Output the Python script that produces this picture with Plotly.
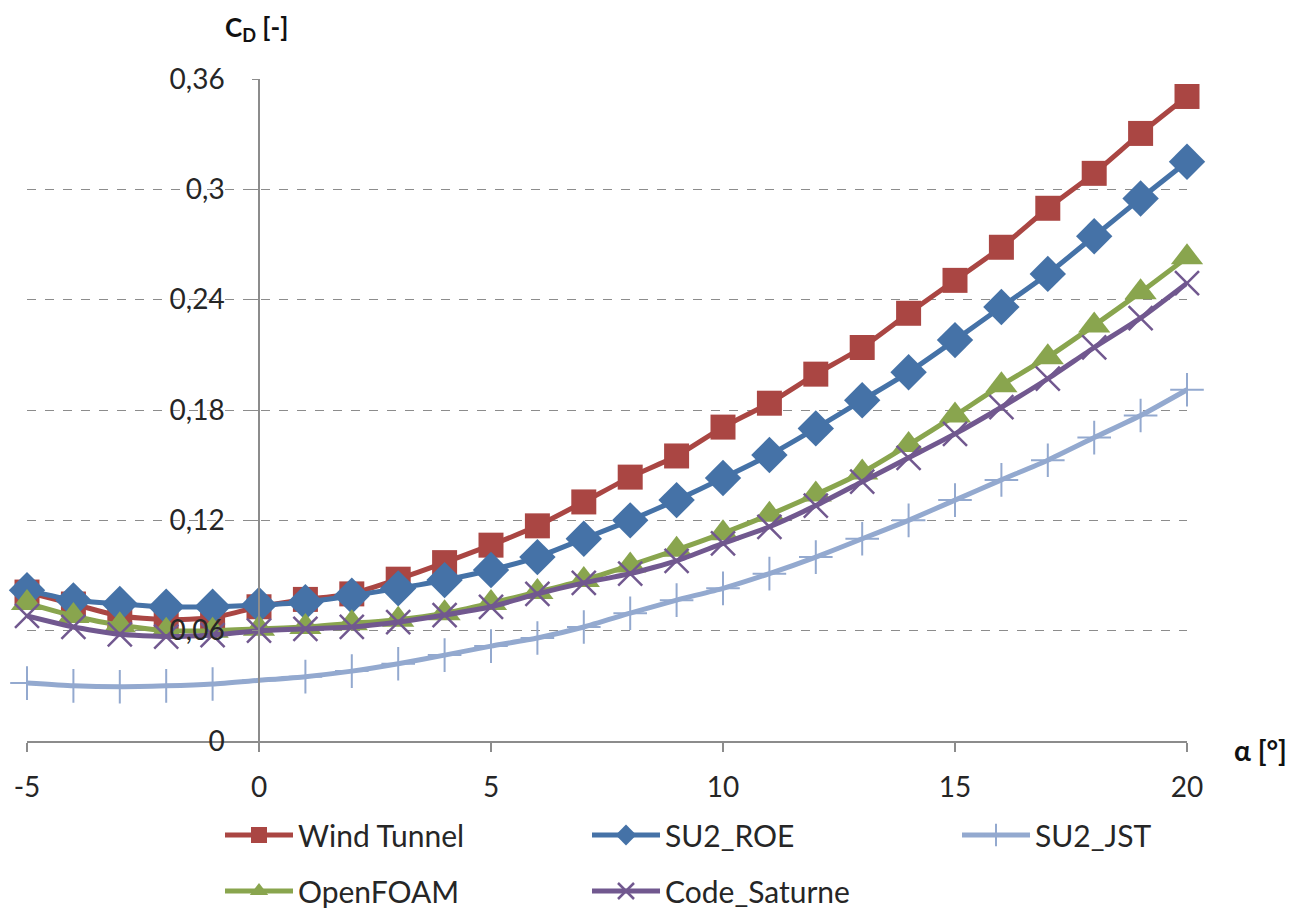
import plotly.graph_objects as go

alpha = [-5, -4, -3, -2, -1, 0, 1, 2, 3, 4, 5, 6, 7, 8, 9, 10, 11, 12, 13, 14, 15, 16, 17, 18, 19, 20]

wind_tunnel = [0.081, 0.0745, 0.068, 0.066, 0.067, 0.073, 0.077, 0.080, 0.088, 0.097, 0.1065, 0.117, 0.130,
               0.1435, 0.155, 0.1707, 0.1837, 0.1995, 0.214, 0.2326, 0.2505, 0.2685, 0.2897, 0.3087, 0.3304, 0.3505]
su2_roe = [0.082, 0.0765, 0.0745, 0.073, 0.073, 0.074, 0.0755, 0.079, 0.083, 0.0875, 0.093, 0.100, 0.110,
           0.120, 0.131, 0.143, 0.1555, 0.170, 0.1853, 0.2005, 0.218, 0.236, 0.254, 0.2745, 0.295, 0.315]
su2_jst = [0.0315, 0.030, 0.0295, 0.030, 0.031, 0.033, 0.035, 0.038, 0.042, 0.0467, 0.0516, 0.056, 0.062,
           0.0695, 0.0766, 0.083, 0.091, 0.100, 0.110, 0.120, 0.131, 0.142, 0.1527, 0.165, 0.177, 0.191]
openfoam = [0.075, 0.068, 0.063, 0.060, 0.060, 0.061, 0.062, 0.064, 0.066, 0.0695, 0.075, 0.081, 0.0875,
            0.0955, 0.104, 0.113, 0.123, 0.134, 0.146, 0.161, 0.177, 0.1935, 0.2087, 0.226, 0.244, 0.263]
code_saturne = [0.068, 0.062, 0.058, 0.0568, 0.0576, 0.060, 0.061, 0.062, 0.0647, 0.0685, 0.073, 0.080, 0.086,
                0.091, 0.098, 0.1075, 0.1165, 0.128, 0.141, 0.154, 0.167, 0.1815, 0.197, 0.214, 0.230, 0.249]

y_ticks = [0, 0.06, 0.12, 0.18, 0.24, 0.30, 0.36]
x_ticks = [-5, 0, 5, 10, 15, 20]
x_tick_text = ["-5", "0", "5", "10", "15", "20"]

FONT = "Lato, 'Open Sans', sans-serif"
TXT = "#262626"
AXC = "#8C8C8C"

# name, values, colour, marker symbol, marker size, marker line width, legend id
series = [
    ("Wind Tunnel", wind_tunnel, "#AA4643", "square", 25, 0, "legend"),
    ("SU2_ROE", su2_roe, "#4572A7", "diamond", 28, 0, "legend2"),
    ("SU2_JST", su2_jst, "#93A9CF", "cross-thin-open", 24, 2, "legend3"),
    ("OpenFOAM", openfoam, "#89A54E", "triangle-up", 28, 0, "legend4"),
    ("Code_Saturne", code_saturne, "#71588F", "x-thin-open", 24, 2.5, "legend5"),
]

fig = go.Figure()
for name, vals, color, sym, size, mlw, leg in series:
    fig.add_trace(go.Scatter(
        x=alpha, y=vals, name=name, mode="lines+markers",
        line=dict(color=color, width=5, shape="spline", smoothing=0.5),
        marker=dict(symbol=sym, size=size, color=color,
                    line=dict(color=color, width=mlw)),
        cliponaxis=False, legend=leg,
    ))

W, H = 1297, 910
ML, MR, MT, MB = 27, 110, 79, 169
PW, PH = W - ML - MR, H - MT - MB


def px_x(p):
    return (p - ML) / PW


def px_y(p):
    return (H - MB - p) / PH


leg_common = dict(font=dict(size=30, family=FONT, color=TXT), itemwidth=68,
                  xanchor="left", yanchor="middle", bgcolor="rgba(0,0,0,0)")
legend_pos = {
    "legend": (220, 835),
    "legend2": (587, 835),
    "legend3": (957, 835),
    "legend4": (220, 891),
    "legend5": (587, 891),
}
legend_layout = {k: dict(x=px_x(a), y=px_y(b), **leg_common) for k, (a, b) in legend_pos.items()}

fig.update_layout(
    width=W, height=H,
    margin=dict(l=ML, r=MR, t=MT, b=MB, autoexpand=False),
    paper_bgcolor="white", plot_bgcolor="white",
    separators=",.",
    font=dict(family=FONT, size=28, color=TXT),
    showlegend=True,
    xaxis=dict(
        range=[-5, 20], tickvals=x_ticks, ticktext=x_tick_text, showgrid=False, zeroline=False,
        showline=True, linecolor=AXC, linewidth=1.5,
        ticks="outside", ticklen=9, tickcolor=AXC, tickwidth=1.5,
        tickfont=dict(size=28, color=TXT), ticklabelstandoff=12,
    ),
    yaxis=dict(
        range=[0, 0.36], tickvals=y_ticks, anchor="free", position=0.2,
        showgrid=True, gridcolor=AXC, griddash="dash", gridwidth=1,
        zeroline=False, showline=True, linecolor=AXC, linewidth=1.5,
        ticks="outside", ticklen=6, tickcolor=AXC,
        tickfont=dict(size=28, color=TXT), ticklabelstandoff=22,
    ),
    annotations=[
        dict(text="<b>C<sub>D</sub> [-]</b>", xref="paper", yref="paper",
             x=px_x(256), y=px_y(28), xanchor="center", yanchor="middle",
             showarrow=False, font=dict(size=26, family=FONT, color="#111111")),
        dict(text="<b>α [°]</b>", xref="paper", yref="paper",
             x=px_x(1260), y=px_y(750), xanchor="center", yanchor="middle",
             showarrow=False, font=dict(size=28, family=FONT, color="#111111")),
    ],
    **legend_layout,
)

fig.write_html("out.html")
